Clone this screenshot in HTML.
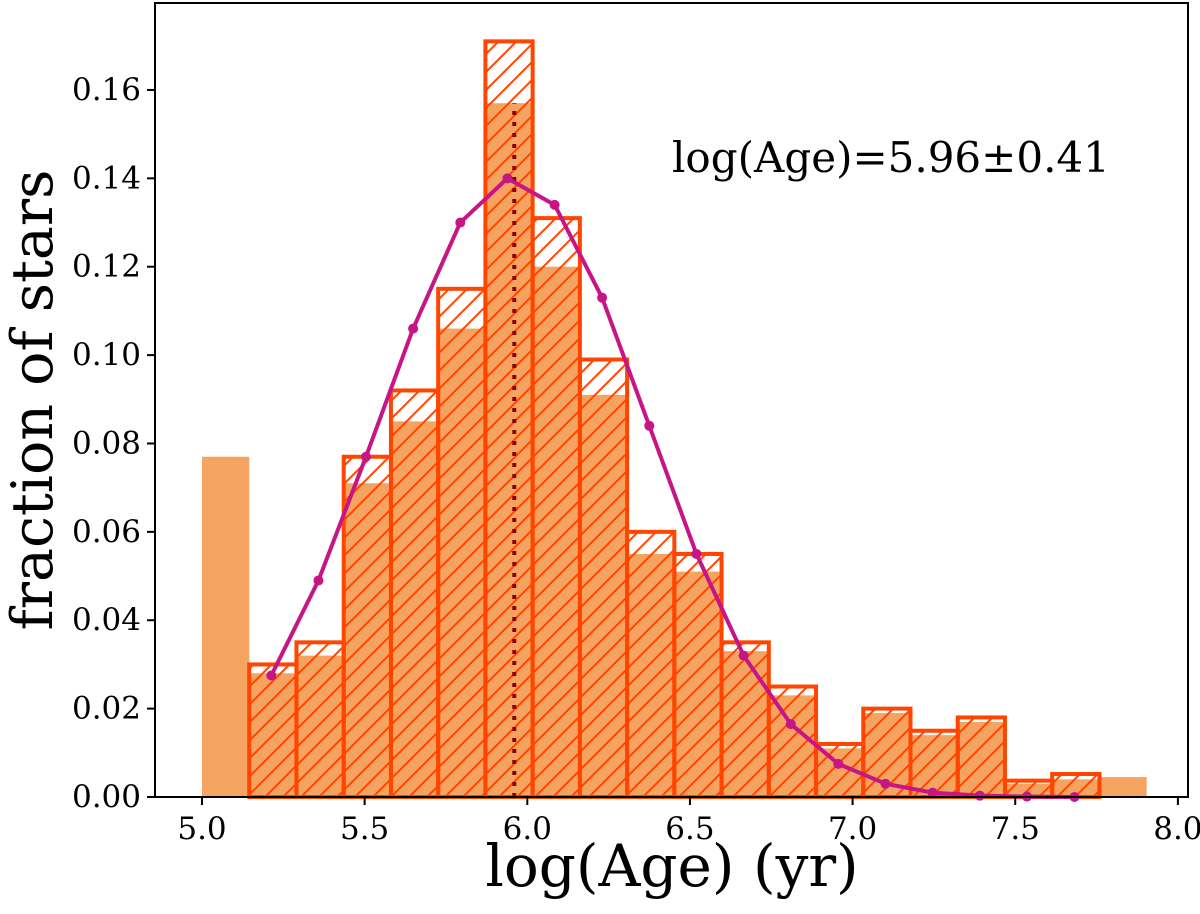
<!DOCTYPE html>
<html><head><meta charset="utf-8"><style>
body{margin:0;background:#fff}
svg text{font-family:"DejaVu Serif","Liberation Serif",serif;fill:#000}
</style></head><body>
<svg id="chart" width="1200" height="909" xmlns="http://www.w3.org/2000/svg">
<defs>
<pattern id="hatch" patternUnits="userSpaceOnUse" width="18" height="18">
<path d="M-2,20 L20,-2 M-2,2 L2,-2 M16,20 L20,16" stroke="#ff4500" stroke-width="2"/>
</pattern>
</defs>
<g id="plot"></g>
</svg>
<script>
const binStart = 5.0;
const binWidth = 0.1452;
const filledValues = [0.077,0.028,0.032,0.071,0.085,0.106,0.157,0.120,0.091,0.055,0.051,0.033,0.023,0.011,0.019,0.014,0.017,0.003,0.004,0.0045];
const hatchedValues = [null,0.030,0.035,0.077,0.092,0.115,0.171,0.131,0.099,0.060,0.055,0.035,0.025,0.012,0.020,0.015,0.018,0.0037,0.0052,null];
const curveX = [5.213,5.358,5.504,5.649,5.794,5.939,6.084,6.230,6.375,6.520,6.665,6.810,6.956,7.101,7.246,7.391,7.536,7.682];
const curveY = [0.0275,0.049,0.077,0.106,0.130,0.140,0.134,0.113,0.084,0.055,0.032,0.0165,0.0075,0.003,0.001,0.0003,0.0001,0.0];
const meanAge = 5.96;
const meanLineTop = 0.157;
const xTicks = [5.0,5.5,6.0,6.5,7.0,7.5,8.0];
const xTickLabels = ["5.0","5.5","6.0","6.5","7.0","7.5","8.0"];
const yTicks = [0,0.02,0.04,0.06,0.08,0.10,0.12,0.14,0.16];
const yTickLabels = ["0.00","0.02","0.04","0.06","0.08","0.10","0.12","0.14","0.16"];

const L=155,R=1188,T=3,B=797;
const X=v=>202+(v-5)*325.3;
const Y=v=>B-v*4419;
const g=document.getElementById('plot');
const NS='http://www.w3.org/2000/svg';
function mk(tag,attrs){const e=document.createElementNS(NS,tag);for(const k in attrs)e.setAttribute(k,attrs[k]);g.appendChild(e);return e;}

filledValues.forEach((v,i)=>{
  const x0=X(binStart+i*binWidth),x1=X(binStart+(i+1)*binWidth);
  const r=mk('rect',{x:x0,y:Y(v),width:x1-x0,height:B-Y(v),fill:'#f4a460'});
  
  
});
hatchedValues.forEach((v,i)=>{
  if(v===null)return;
  const x0=X(binStart+i*binWidth),x1=X(binStart+(i+1)*binWidth);
  const r=mk('rect',{x:x0,y:Y(v),width:x1-x0,height:B-Y(v),fill:'url(#hatch)',stroke:'#ff4500','stroke-width':4});
  
  
});
const ml=mk('line',{x1:X(meanAge),x2:X(meanAge),y1:B,y2:Y(meanLineTop),stroke:'#8b0000','stroke-width':4,'stroke-dasharray':'4,7'});


const pl=mk('polyline',{points:curveX.map((x,i)=>X(x)+','+Y(curveY[i])).join(' '),fill:'none',stroke:'#c71585','stroke-width':4});


curveX.forEach((x,i)=>{
  const c=mk('circle',{cx:X(x),cy:Y(curveY[i]),r:5,fill:'#c71585'});
  
  
});
const fr=mk('rect',{x:L,y:T,width:R-L,height:B-T,fill:'none',stroke:'#000','stroke-width':2});


xTicks.forEach((v,i)=>{
  const t=mk('line',{x1:X(v),x2:X(v),y1:B,y2:B+8,stroke:'#000','stroke-width':2});
  
  
  const tx=mk('text',{x:X(v),y:B+42,'font-size':31,'text-anchor':'middle'});
  tx.textContent=xTickLabels[i];
  
  
});
yTicks.forEach((v,i)=>{
  const t=mk('line',{x1:L-8,x2:L,y1:Y(v),y2:Y(v),stroke:'#000','stroke-width':2});
  
  
  const tx=mk('text',{x:L-14,y:Y(v)+10,'font-size':31,'text-anchor':'end'});
  tx.textContent=yTickLabels[i];
  
  
});
const xl=mk('text',{x:672,y:886,'font-size':58,'text-anchor':'middle'});
xl.textContent='log(Age) (yr)';


const yl=mk('text',{x:0,y:0,'font-size':57,'text-anchor':'middle',transform:'translate(52,400) rotate(-90)'});
yl.textContent='fraction of stars';


const an=mk('text',{x:672,y:172,'font-size':42});
an.textContent='log(Age)=5.96±0.41';


</script>
</body></html>
